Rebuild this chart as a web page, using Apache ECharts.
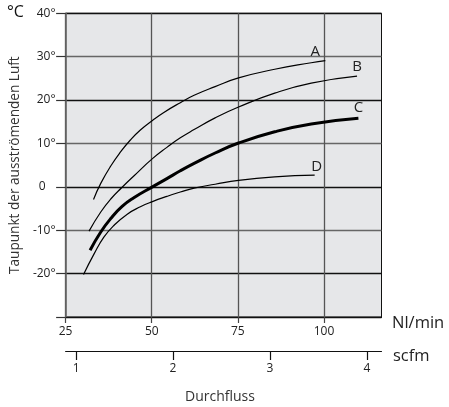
<!DOCTYPE html>
<html>
<head>
<meta charset="utf-8">
<script src="https://cdn.jsdelivr.net/npm/echarts@6/dist/echarts.min.js"></script>
<style>html,body{margin:0;padding:0;background:#fff}#c{width:449px;height:407px}</style>
</head>
<body>
<div id="c"></div>
<script>
// Data (x: Nl/min, y: dew point °C)
const curveNames = ['A', 'B', 'C', 'D'];
const curveA = [[33.1,-2.9],[35.2,0.8],[38.1,4.8],[41,8.1],[43.8,10.8],[46.7,13.1],[50.2,15.3],[53.4,17.1],[58.3,19.4],[62.3,21.1],[68.4,23.1],[75.2,25.1],[85.7,27.1],[96.3,28.6],[100.4,29.1]];
const curveB = [[31.8,-10.2],[35.2,-5.8],[38.1,-2.8],[41.4,-0.1],[44.8,2.5],[50.2,6.5],[54.4,9.1],[58.3,11.3],[62.3,13.2],[68.4,15.9],[75.2,18.4],[85.7,21.6],[96.3,23.9],[109.6,25.5]];
const curveC = [[32.1,-14.6],[35.2,-10.4],[38.1,-7.3],[41.4,-4.5],[44.8,-2.5],[50.2,0],[54.4,1.9],[58.3,3.7],[62.3,5.4],[68.4,7.8],[75.2,10.1],[85.7,12.7],[96.3,14.5],[110,15.8]];
const curveD = [[30.2,-20.2],[33.3,-15.4],[36.1,-11.6],[39,-8.9],[42.9,-6.3],[46.7,-4.6],[50.2,-3.4],[54.4,-2.2],[58.3,-1.2],[62.3,-0.3],[68.4,0.6],[75.2,1.5],[85.7,2.3],[97.3,2.7]];
const nlTicks = [25, 50, 75, 100];
const scfmTicks = [1, 2, 3, 4];

const FONT = 'Open Sans';
const curves = [curveA, curveB, curveC, curveD];
const widths = [1.2, 1.2, 3, 1.2];
const labelOffsets = [[-10, -1], [0, -2], [0, -3], [2, -1]];

const series = curves.map((d, i) => ({
  type: 'line',
  name: curveNames[i],
  xAxisIndex: 0,
  yAxisIndex: 0,
  smooth: true,
  showSymbol: false,
  symbol: 'none',
  lineStyle: { color: '#000', width: widths[i] },
  itemStyle: { color: '#000' },
  emphasis: { disabled: true },
  endLabel: { show: true, formatter: curveNames[i], distance: 0, align: 'center', verticalAlign: 'bottom',
    offset: labelOffsets[i], fontSize: 15, fontFamily: FONT, color: '#222' },
  data: d
}));

const chart = echarts.init(document.getElementById('c'));
chart.setOption({
  animation: false,
  textStyle: { fontFamily: FONT },
  grid: { left: 62.7, right: 67.5, top: 13.3, bottom: 90, show: true,
    backgroundColor: '#e6e7e9', borderColor: '#111', borderWidth: 1 },
  xAxis: [{
    type: 'value', min: 25, max: 116.7, interval: 25, position: 'bottom',
    axisLine: { show: true, onZero: false, lineStyle: { color: '#111', width: 1.2 } },
    axisTick: { show: true, length: 6, customValues: nlTicks, lineStyle: { color: '#444', width: 1.2 } },
    axisLabel: { customValues: nlTicks, margin: 9, fontSize: 12, color: '#222', fontFamily: FONT },
    splitLine: { show: true, lineStyle: { color: '#555', width: 1.3 } }
  }, {
    type: 'value', min: 0.892, max: 4.151, position: 'bottom', offset: 34,
    axisLine: { show: true, onZero: false, lineStyle: { color: '#111', width: 1.2 } },
    axisTick: { show: true, length: 9, customValues: scfmTicks, lineStyle: { color: '#111', width: 1.2 } },
    axisLabel: { customValues: scfmTicks, margin: 12, fontSize: 12, color: '#222', fontFamily: FONT },
    splitLine: { show: false }
  }],
  yAxis: [{
    type: 'value', min: -30, max: 40, interval: 10,
    name: 'Taupunkt der ausströmenden Luft', nameLocation: 'middle', nameGap: 40,
    nameTextStyle: { fontSize: 13.6, color: '#333', fontFamily: FONT },
    axisLine: { show: true, lineStyle: { color: '#666', width: 1.5 } },
    axisTick: { show: true, length: 9.5, lineStyle: { color: '#333', width: 1.2 } },
    axisLabel: { margin: 10, fontSize: 12, color: '#222', fontFamily: FONT,
      formatter: v => v === -30 ? '' : (v === 0 ? '{z|0}' : v + '°'),
      rich: { z: { fontSize: 12, color: '#222', fontFamily: FONT, padding: [0, 10, 0, 0] } } },
    splitLine: { show: true, lineStyle: { color: ['#111','#111','#666','#111','#666','#111','#666','#111'], width: 1.3 } }
  }],
  graphic: [
    { type: 'text', left: 7, top: 4, style: { text: '°C', fontSize: 16, fill: '#111', fontFamily: FONT } },
    { type: 'text', x: 392, y: 323, style: { text: 'Nl/min', fontSize: 16.5, fill: '#222', fontFamily: FONT, verticalAlign: 'middle' } },
    { type: 'text', x: 393, y: 356, style: { text: 'scfm', fontSize: 16.5, fill: '#222', fontFamily: FONT, verticalAlign: 'middle' } },
    { type: 'text', x: 220, y: 397, style: { text: 'Durchfluss', fontSize: 14, fill: '#333', fontFamily: FONT, align: 'center', verticalAlign: 'middle' } }
  ],
  series: series
});
</script>
</body>
</html>
